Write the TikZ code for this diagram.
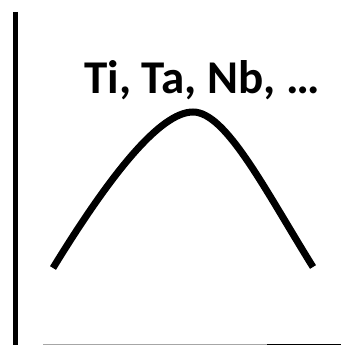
\documentclass[tikz,border=0pt]{standalone}
\usepackage{fontspec}
\setmainfont{Carlito}
\begin{document}
\begin{tikzpicture}[x=1pt,y=-1pt,
  axisline/.style={line width=5pt},
  curveline/.style={line width=7pt, line cap=butt}]

  % Rahmen
  \useasboundingbox (0,0) rectangle (341,345);

  % y-Achse
  \draw[axisline] (15.5,12) -- (15.5,345);

  % x-Achse (abgeschnitten)
  \draw[gray!70, line width=1.2pt] (43,344.4) -- (267,344.4);
  \draw[black, line width=1.2pt] (267,344.4) -- (341,344.4);

  % Kurve
  \coordinate (left) at (53,268);
  \coordinate (peak) at (193,112);
  \coordinate (right) at (313,267);
  \draw[curveline] (left) .. controls (110,175) and (160,112) .. (peak)
    .. controls (226,112) and (265,190) .. (right);

  % Beschriftung
  \node[anchor=base, font=\bfseries\fontsize{47}{47}\selectfont, inner sep=0pt] (metals) at (202,93) {Ti, Ta, Nb, …};

\end{tikzpicture}
\end{document}
